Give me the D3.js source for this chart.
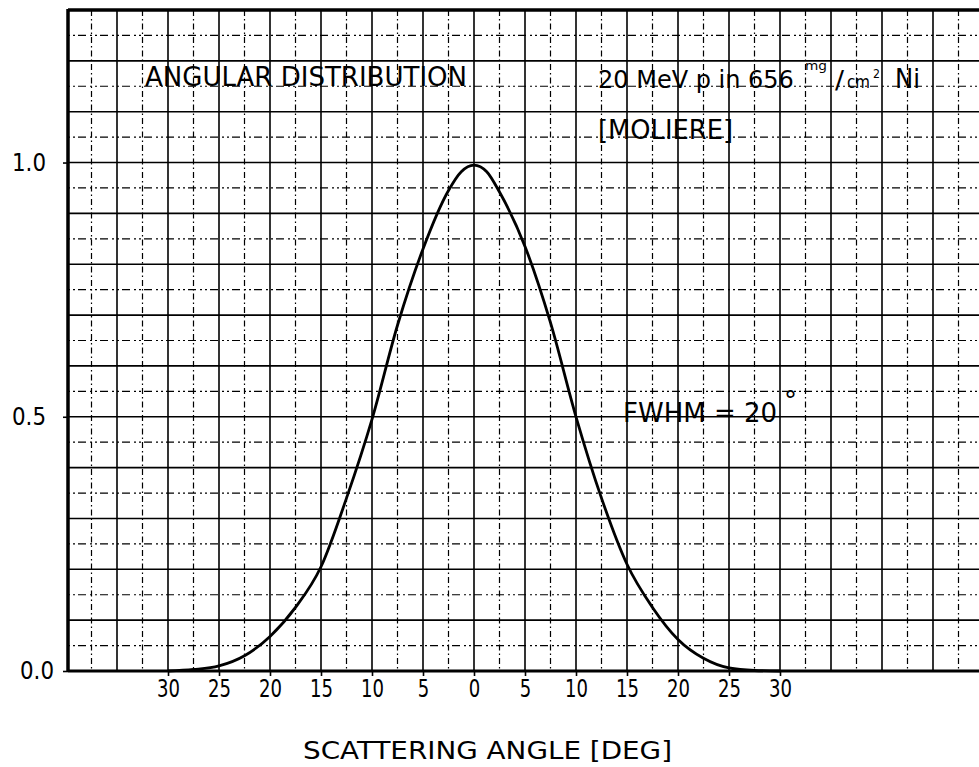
<!DOCTYPE html>
<html>
<head>
<meta charset="utf-8">
<script src="https://cdn.jsdelivr.net/npm/d3@7"></script>
<style>
  body { margin: 0; background: #fff; }
  svg { display: block; }
  text { font-family: "DejaVu Sans", sans-serif; fill: #000; }
</style>
</head>
<body>
<div id="chart"></div>
<script>
// scattering angle (deg) and relative intensity
const angles    = [-30, -27.5, -25, -22.5, -20, -17.5, -15, -12.5, -10, -7.5, -5, -2.5, -1.25, 0, 1.25, 2.5, 5, 7.5, 10, 12.5, 15, 17.5, 20, 22.5, 25, 27.5, 30];
const intensity = [0.000, 0.003, 0.010, 0.030, 0.068, 0.125, 0.205, 0.340, 0.495, 0.680, 0.830, 0.945, 0.982, 0.995, 0.982, 0.942, 0.835, 0.685, 0.500, 0.340, 0.210, 0.125, 0.062, 0.025, 0.006, 0.001, 0.000];

const xTickValues = [-30, -25, -20, -15, -10, -5, 0, 5, 10, 15, 20, 25, 30];
const xTickLabels = ["30", "25", "20", "15", "10", "5", "0", "5", "10", "15", "20", "25", "30"];
const yTickValues = [0, 0.5, 1.0];
const yTickLabels = ["0.0", "0.5", "1.0"];

const W = 979, H = 767;
const frame = {left: 68, top: 10, bottom: 671};

const svg = d3.select("#chart")
              .append("svg")
              .attr("width", W)
              .attr("height", H);

const x = d3.scaleLinear().domain([-30, 30]).range([168, 780]);
const y = d3.scaleLinear().domain([0, 1.3]).range([frame.bottom, frame.top]);

// graph paper: solid every 5 deg / 0.1, broken lines halfway
const gridX = d3.range(-37.5, 48, 2.5);
const gridY = d3.range(0.05, 1.3, 0.05);
const isMajor = (v, step) => Math.abs(v / step - Math.round(v / step)) < 1e-6;

const grid = svg.append("g").attr("class", "grid");

grid.selectAll(".vline")
    .data(gridX)
    .enter().append("line")
    .attr("x1", d => x(d)).attr("x2", d => x(d))
    .attr("y1", frame.top).attr("y2", frame.bottom)
    .attr("stroke", "#000")
    .attr("stroke-width", d => isMajor(d, 5) ? 1.6 : 1.2)
    .attr("stroke-dasharray", d => isMajor(d, 5) ? null : "6,3,1.5,3");

grid.selectAll(".hline")
    .data(gridY)
    .enter().append("line")
    .attr("x1", frame.left).attr("x2", W)
    .attr("y1", d => y(d)).attr("y2", d => y(d))
    .attr("stroke", "#000")
    .attr("stroke-width", d => isMajor(d, 0.1) ? 1.6 : 1.2)
    .attr("stroke-dasharray", d => isMajor(d, 0.1) ? null : "2,3,2,3,8,4");

// frame
svg.append("line").attr("x1", frame.left).attr("x2", frame.left)
   .attr("y1", frame.top - 1).attr("y2", frame.bottom + 1)
   .attr("stroke", "#000").attr("stroke-width", 3.5);
svg.append("line").attr("x1", frame.left).attr("x2", W)
   .attr("y1", frame.top).attr("y2", frame.top)
   .attr("stroke", "#000").attr("stroke-width", 3.5);
svg.append("line").attr("x1", frame.left).attr("x2", W)
   .attr("y1", frame.bottom).attr("y2", frame.bottom)
   .attr("stroke", "#000").attr("stroke-width", 3);

// axes
const xAxis = d3.axisBottom(x)
                .tickValues(xTickValues)
                .tickFormat((d, i) => xTickLabels[i])
                .tickSize(5)
                .tickPadding(4);

const gx = svg.append("g")
              .attr("transform", `translate(0,${frame.bottom})`)
              .call(xAxis);
gx.select(".domain").remove();
gx.selectAll(".tick line").attr("stroke", "#000").attr("stroke-width", 1.6);
gx.selectAll(".tick text")
  .style("font-size", "24px")
  .style("font-family", "DejaVu Sans, sans-serif")
  .attr("textLength", (d, i) => xTickLabels[i].length * 11.5)
  .attr("lengthAdjust", "spacingAndGlyphs");

const yAxis = d3.axisLeft(y)
                .tickValues(yTickValues)
                .tickFormat((d, i) => yTickLabels[i])
                .tickSize(5)
                .tickPadding(17);

const gy = svg.append("g")
              .attr("transform", `translate(${frame.left},0)`)
              .call(yAxis);
gy.select(".domain").remove();
gy.selectAll(".tick line").attr("stroke", "#000").attr("stroke-width", 1.6);
gy.selectAll(".tick text")
  .style("font-size", "24px")
  .style("font-family", "DejaVu Sans, sans-serif")
  .attr("textLength", 34)
  .attr("lengthAdjust", "spacingAndGlyphs")
  .attr("dx", d => d === 0 ? 8 : 0);   // the hand-lettered 0.0 sits a bit further right

// the curve
const line = d3.line()
               .x((d, i) => x(angles[i]))
               .y(d => y(d))
               .curve(d3.curveMonotoneX);

svg.append("path")
   .datum(intensity)
   .attr("d", line)
   .attr("fill", "none")
   .attr("stroke", "#000")
   .attr("stroke-width", 2.8);

// annotations
function label(txt, px, py, size, len) {
    const t = svg.append("text")
                 .attr("x", px).attr("y", py)
                 .style("font-size", size + "px")
                 .text(txt);
    if (len) t.attr("textLength", len).attr("lengthAdjust", "spacingAndGlyphs");
    return t;
}

label("ANGULAR  DISTRIBUTION", 145, 86, 27, 322);
label("20 MeV p in 656", 598, 88, 24);
label("mg", 805, 70, 12, 22);
label("/", 835, 88, 24, 9);
label("cm", 847, 88, 18, 23);
label("2", 873, 78, 12, 7);
label("Ni", 895, 88, 26, 25);
label("[MOLIERE]", 598, 139, 26, 135);
label("FWHM = 20", 623, 422, 27, 154);
label("°", 784, 410, 26);
label("SCATTERING  ANGLE [DEG]", 303, 759, 24, 369);
</script>
</body>
</html>
